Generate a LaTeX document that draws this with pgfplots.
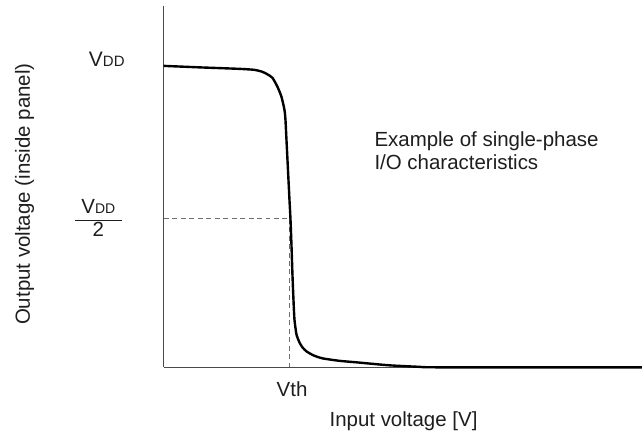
\documentclass[border=0pt]{standalone}
\usepackage{pgfplots}
\pgfplotsset{compat=1.18}
\usepackage{fontspec}
\setmainfont{Liberation Sans}
\definecolor{txt}{HTML}{1E1E1E}
\definecolor{axc}{HTML}{4A4A4A}
\definecolor{dsh}{HTML}{6E6E6E}
\begin{document}
\begin{tikzpicture}
\begin{axis}[
  scale only axis, width=479bp, height=362bp,
  xmin=0, xmax=479, ymin=0, ymax=362,
  axis x line=bottom, axis y line=left,
  axis line style={-, line width=1.6bp, color=axc},
  xtick=\empty, ytick=\empty,
  clip=false,
]
\path (axis cs:-164,-70) rectangle (axis cs:479,368);
% dashed guides
\addplot[dsh, line width=1bp, dash pattern=on 5bp off 3.5bp] coordinates {(0,149) (126,149)};
\addplot[dsh, line width=1bp, dash pattern=on 5bp off 3.5bp] coordinates {(126,149) (126,0)};
% transfer curve
\addplot[black, line width=2.4bp, smooth, tension=0.35] coordinates {
(0,302) (36,300.5) (76,299) (91,298) (99,296) (104,293.5) (109,290) (114,281) (118,271) (121,258)
(122,248) (123,228) (124.5,198) (126,168) (127,149) (128,123) (129,93)
(130,68) (131,48) (133,33) (136,25) (139,20) (143,16) (150,12) (159,9)
(176,6.5) (193,5) (226,2) (256,0.5) (276,0) (479,0)};
% labels
\node[anchor=base east, inner sep=0, text=txt] at (axis cs:-39,301)
  {\fontsize{21bp}{23bp}\selectfont V\fontsize{15bp}{18bp}\selectfont DD};
\node[anchor=center, inner sep=0, text=txt] at (axis cs:-65.5,147)
  {\fontsize{20.5bp}{23bp}\selectfont\setlength{\tabcolsep}{6.5bp}\begin{tabular}{c}
   V\fontsize{14bp}{23bp}\selectfont DD\\\hline 2\end{tabular}};
\node[anchor=base west, inner sep=0, text=txt] at (axis cs:113,-29)
  {\fontsize{20.5bp}{23bp}\selectfont Vth};
\node[anchor=base west, inner sep=0, text=txt] at (axis cs:166,-59)
  {\fontsize{20.5bp}{23bp}\selectfont Input voltage [V]};
\node[anchor=base west, inner sep=0, text=txt] at (axis cs:211,221)
  {\fontsize{20.5bp}{23bp}\selectfont Example of single-phase};
\node[anchor=base west, inner sep=0, text=txt] at (axis cs:211,198)
  {\fontsize{20.5bp}{23bp}\selectfont I/O characteristics};
\node[anchor=base, rotate=90, inner sep=0, text=txt] at (axis cs:-134,173.5)
  {\fontsize{20.5bp}{23bp}\selectfont Output voltage (inside panel)};
\end{axis}
\end{tikzpicture}
\end{document}
